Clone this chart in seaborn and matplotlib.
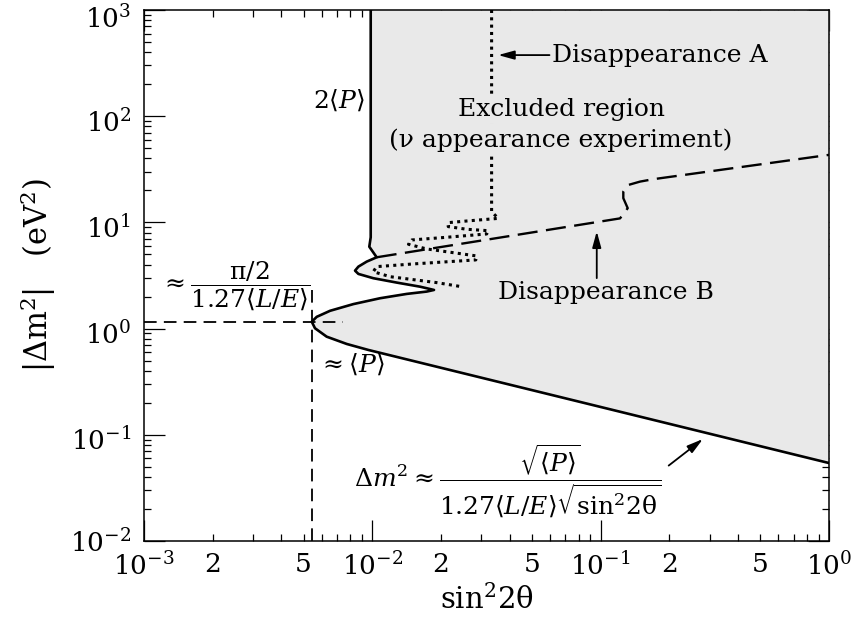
import numpy as np
import matplotlib
matplotlib.use("Agg")
import matplotlib.pyplot as plt
from matplotlib.ticker import FixedLocator, FuncFormatter, LogLocator, NullFormatter
from matplotlib.transforms import ScaledTranslation
import seaborn as sns

# Boundary of the region excluded by the appearance experiment (sin^2 2θ, |Δm^2| in eV^2)
excl_sin2 = [0.00984, 0.00984, 0.00970, 0.01045, 0.00945, 0.00869, 0.00840, 0.00869,
             0.01010, 0.01279, 0.01618, 0.01863, 0.01730, 0.01415, 0.01081, 0.00826,
             0.00653, 0.00571, 0.00543, 0.00561, 0.00631, 0.00773, 0.00961, 1.0]
excl_dm2 = [1000.0, 7.24, 5.90, 4.69, 4.27, 3.83, 3.51, 3.27,
            2.98, 2.71, 2.48, 2.31, 2.23, 2.12, 1.93, 1.70,
            1.47, 1.29, 1.16, 1.007, 0.839, 0.716, 0.629, 0.0542]

# Disappearance experiment A (dotted)
disA_sin2 = [0.0333, 0.0333, 0.0356, 0.0259, 0.0215, 0.0215, 0.0259, 0.0322, 0.0317,
             0.0212, 0.0149, 0.0144, 0.0173, 0.0286, 0.0284, 0.0151, 0.01044, 0.0101,
             0.01196, 0.0191, 0.0246]
disA_dm2 = [1000.0, 12.6, 10.9, 10.3, 9.94, 9.12, 8.61, 8.35, 7.78,
            7.24, 6.83, 6.22, 5.62, 4.83, 4.43, 4.06, 3.83, 3.43,
            3.08, 2.71, 2.48]

# Disappearance experiment B (dashed)
disB_sin2 = [0.01045, 0.1216, 0.1314, 0.1257, 0.1257, 0.1322, 0.1488, 0.1701, 1.0]
disB_dm2 = [4.69, 10.9, 13.6, 16.9, 19.5, 22.5, 24.2, 25.5, 43.2]

# Guide lines through the tip of the excluded region
tip_sin2 = 0.00543
tip_dm2 = 1.16

x_major = [1e-3, 1e-2, 1e-1, 1e0]
y_major = [1e-2, 1e-1, 1e0, 1e1, 1e2, 1e3]
x_minor_labels = {2: "2", 5: "5"}

FILL = "#e9e9e9"

sns.set_theme(style="ticks")
plt.rcParams.update({
    "font.family": ["DejaVu Serif"],
    "mathtext.fontset": "dejavuserif",
    "text.color": "black",
    "axes.edgecolor": "black",
    "axes.labelcolor": "black",
    "xtick.color": "black",
    "ytick.color": "black",
    "axes.linewidth": 1.1,
})

fig = plt.figure(figsize=(8.51, 6.30), dpi=100)
ax = fig.add_axes([0.1692, 0.1413, 0.8049, 0.8429])
ax.set_xscale("log")
ax.set_yscale("log")

# Excluded region: everything to the right of the boundary curve
ax.fill_betweenx(excl_dm2[::-1], excl_sin2[::-1], 1.0, color=FILL, lw=0, zorder=1)

sns.lineplot(x=excl_sin2, y=excl_dm2, sort=False, estimator=None, color="black",
             linewidth=1.9, ax=ax, zorder=4)
sns.lineplot(x=disA_sin2, y=disA_dm2, sort=False, estimator=None, color="black",
             linewidth=2.2, linestyle=(0, (1.0, 1.4)), ax=ax, zorder=3)
sns.lineplot(x=disB_sin2, y=disB_dm2, sort=False, estimator=None, color="black",
             linewidth=1.7, linestyle=(0, (8.5, 3.6)), ax=ax, zorder=3)

# Dashed guides
sns.lineplot(x=[1e-3, 0.00745], y=[tip_dm2, tip_dm2], sort=False, estimator=None,
             color="black", linewidth=1.3, linestyle=(0, (7, 4)), ax=ax, zorder=5)
sns.lineplot(x=[tip_sin2, tip_sin2], y=[2.31, 1e-2], sort=False, estimator=None,
             color="black", linewidth=1.3, linestyle=(0, (7, 4)), ax=ax, zorder=5)

ax.set_xlim(1e-3, 1.0)
ax.set_ylim(1e-2, 1e3)

def decade(v, pos):
    return r"$10^{%d}$" % int(round(np.log10(v)))

def minor_label(v, pos):
    m = int(round(v / 10 ** np.floor(np.log10(v) + 1e-9)))
    return x_minor_labels.get(m, "")

ax.xaxis.set_major_locator(FixedLocator(x_major))
ax.xaxis.set_major_formatter(FuncFormatter(decade))
ax.xaxis.set_minor_locator(LogLocator(base=10, subs=range(2, 10), numticks=100))
ax.xaxis.set_minor_formatter(FuncFormatter(minor_label))
ax.yaxis.set_major_locator(FixedLocator(y_major))
ax.yaxis.set_major_formatter(FuncFormatter(decade))
ax.yaxis.set_minor_locator(LogLocator(base=10, subs=range(2, 10), numticks=100))
ax.yaxis.set_minor_formatter(NullFormatter())

ax.tick_params(which="both", direction="in", top=True, right=True, labelsize=19)
ax.tick_params(which="major", length=15, width=0.9, pad=8)
ax.tick_params(which="minor", length=5, width=0.9, pad=8)
ax.tick_params(axis="y", which="major", pad=9)

# Nudge the decade labels on the y axis so the base digits sit on the tick
for tick, dy in zip(ax.yaxis.get_major_ticks(len(y_major)), [0, 3, 3, 3, 3, 5]):
    shift = ScaledTranslation(0, -dy / 72, fig.dpi_scale_trans)
    tick.label1.set_transform(tick.label1.get_transform() + shift)

ax.set_xlabel("sin$^2$2θ", fontsize=21, labelpad=3)
ax.set_ylabel(r"$|\Delta\mathrm{m}^2|$   (eV$^2$)", fontsize=22, labelpad=9)

T = ax.transAxes
txt = dict(transform=T, color="black")
arrow = dict(arrowstyle="-|>,head_length=0.8,head_width=0.22",
             color="black", lw=1.3, shrinkA=0, shrinkB=0)
ax.text(0.323, 0.830, r"$2\langle P\rangle$", ha="right", va="center", fontsize=18, **txt)
ax.text(0.610, 0.812, "Excluded region", ha="center", va="center", fontsize=18,
        bbox=dict(facecolor=FILL, edgecolor="none", pad=1), zorder=6, **txt)
ax.text(0.609, 0.755, "(ν appearance experiment)", ha="center", va="center", fontsize=18,
        bbox=dict(facecolor=FILL, edgecolor="none", pad=1), zorder=6, **txt)
ax.text(0.596, 0.915, "Disappearance A", ha="left", va="center", fontsize=18, **txt)
ax.annotate("", xy=(0.517, 0.915), xytext=(0.592, 0.915), xycoords=T, textcoords=T,
            arrowprops=arrow)
ax.text(0.675, 0.467, "Disappearance B", ha="center", va="center", fontsize=18, **txt)
ax.annotate("", xy=(0.661, 0.583), xytext=(0.661, 0.495), xycoords=T, textcoords=T,
            arrowprops=arrow)
ax.text(0.133, 0.480, r"$\approx\dfrac{\mathrm{\pi}/2}{1.27\langle L/E\rangle}$",
        ha="center", va="center", fontsize=18, zorder=6, **txt)
ax.text(0.254, 0.332, r"$\approx\langle P\rangle$", ha="left", va="center", fontsize=18, **txt)
ax.text(0.531, 0.112,
        r"$\Delta m^2\approx\dfrac{\sqrt{\langle P\rangle}}{1.27\langle L/E\rangle\sqrt{\mathrm{sin}^2 2\mathrm{\theta}}}$",
        ha="center", va="center", fontsize=18, **txt)
ax.annotate("", xy=(0.816, 0.192), xytext=(0.766, 0.142), xycoords=T, textcoords=T,
            arrowprops=arrow)

fig.savefig("out.png", dpi=100)
